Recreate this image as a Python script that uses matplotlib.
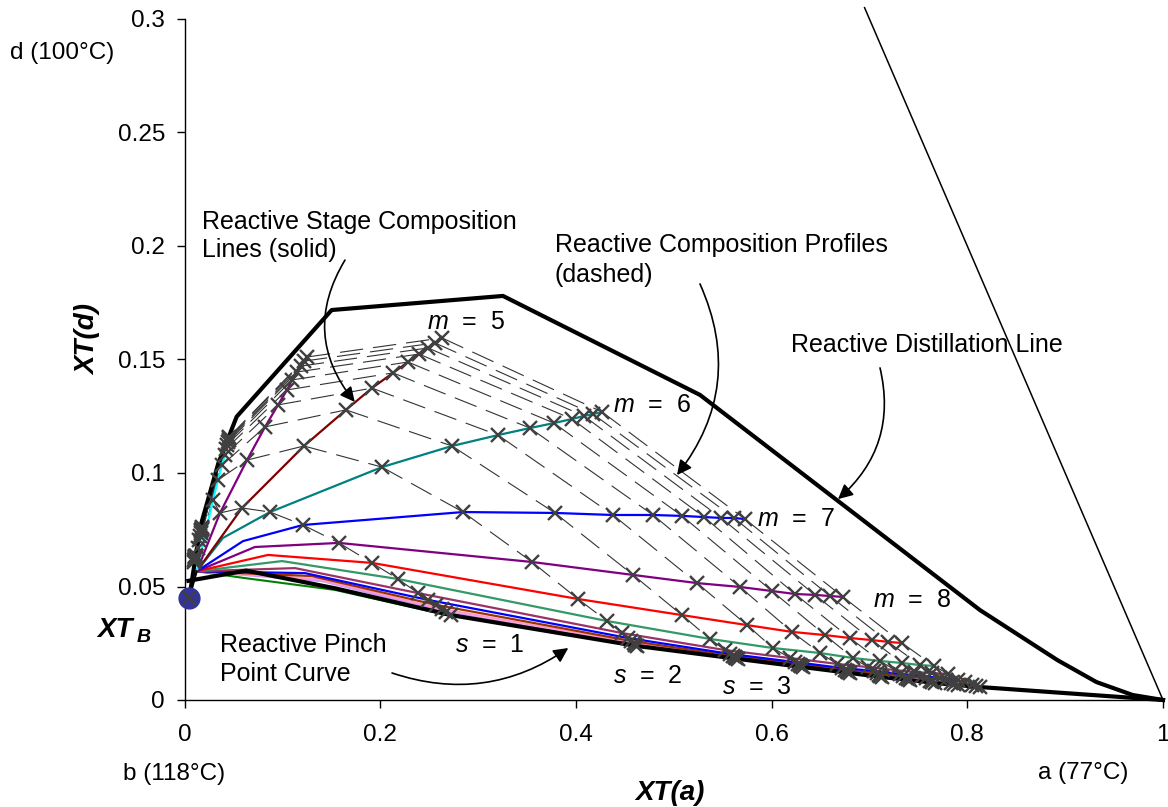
import numpy as np
import matplotlib.pyplot as plt
from matplotlib.collections import LineCollection

plt.rcParams['font.family'] = ['Liberation Sans', 'DejaVu Sans']
plt.rcParams['mathtext.fontset'] = 'custom'
plt.rcParams['mathtext.rm'] = 'Liberation Sans'
plt.rcParams['mathtext.it'] = 'Liberation Sans:italic'

# --- bottoms composition XT_B and the point where the stage lines fan out ---
xtb_x, xtb_y = 0.0049, 0.0449
fan_x, fan_y = 0.0125, 0.0567

# --- reactive distillation line (thick) ---
rdl_x = [0.0049, 0.0158, 0.0346, 0.0533, 0.1504, 0.3255, 0.5268, 0.813, 0.892, 0.932, 0.969, 1.0]
rdl_y = [0.0449, 0.0758, 0.1043, 0.1248, 0.1718, 0.1780, 0.1344, 0.0396, 0.0176, 0.0079, 0.0022, 0.0]

# simplex edge a-d
edge_x = [1.0, 0.695]
edge_y = [0.0, 0.305]

# start of the reactive pinch point curve (rest runs through the pinch points)
pc_head_x = [0.004, 0.063, 0.154]
pc_head_y = [0.0525, 0.057, 0.0492]

# --- stage compositions, one value per profile s = 1..10 ---
m1_x = [0.0097, 0.0102, 0.0107, 0.0107, 0.0112, 0.0112, 0.0112, 0.0118, 0.0118, 0.0118]
m1_y = [0.0608, 0.0617, 0.0621, 0.0626, 0.0630, 0.0630, 0.0634, 0.0634, 0.0634, 0.0634]
m2_x = [0.0138, 0.0148, 0.0158, 0.0164, 0.0169, 0.0169, 0.0174, 0.0174, 0.0179, 0.0179]
m2_y = [0.0670, 0.0705, 0.0722, 0.0736, 0.0744, 0.0749, 0.0753, 0.0755, 0.0758, 0.0760]
m3_x = [0.0291, 0.0342, 0.0383, 0.0414, 0.0424, 0.0434, 0.0445, 0.0450, 0.0455, 0.0455]
m3_y = [0.0881, 0.0969, 0.1035, 0.1079, 0.1106, 0.1123, 0.1137, 0.1145, 0.1154, 0.1159]
m4_x = [0.0363, 0.0639, 0.0823, 0.0956, 0.1048, 0.1099, 0.1150, 0.1190, 0.1221, 0.1252]
m4_y = [0.0824, 0.1057, 0.1203, 0.1300, 0.1366, 0.1410, 0.1445, 0.1471, 0.1493, 0.1511]
m5_x = [0.0588, 0.1221, 0.1650, 0.1916, 0.2131, 0.2284, 0.2397, 0.2489, 0.2560, 0.2632]
m5_y = [0.0846, 0.1119, 0.1278, 0.1374, 0.1441, 0.1489, 0.1524, 0.1551, 0.1573, 0.1595]
m6_x = [0.0874, 0.2018, 0.2734, 0.3204, 0.3531, 0.3776, 0.3960, 0.4083, 0.4175, 0.4267]
m6_y = [0.0828, 0.1026, 0.1119, 0.1167, 0.1198, 0.1220, 0.1238, 0.1251, 0.1260, 0.1269]
m7_x = [0.1211, 0.2846, 0.3786, 0.4379, 0.4788, 0.5084, 0.5309, 0.5483, 0.5616, 0.5728]
m7_y = [0.0771, 0.0828, 0.0824, 0.0815, 0.0815, 0.0811, 0.0806, 0.0802, 0.0802, 0.0797]
m8_x = [0.1579, 0.3551, 0.4584, 0.5238, 0.5677, 0.6004, 0.6239, 0.6443, 0.6597, 0.6730]
m8_y = [0.0692, 0.0608, 0.0551, 0.0515, 0.0498, 0.0480, 0.0467, 0.0463, 0.0458, 0.0454]
m9_x = [0.1916, 0.4021, 0.5084, 0.5749, 0.6209, 0.6546, 0.6801, 0.7026, 0.7190, 0.7333]
m9_y = [0.0604, 0.0445, 0.0374, 0.0330, 0.0300, 0.0286, 0.0273, 0.0264, 0.0256, 0.0251]
m10_x = [0.2182, 0.4318, 0.5370, 0.6014, 0.6495, 0.6832, 0.7108, 0.7333, 0.7517, 0.7660]
m10_y = [0.0533, 0.0348, 0.0269, 0.0229, 0.0207, 0.0185, 0.0172, 0.0163, 0.0154, 0.0150]
m11_x = [0.2386, 0.4471, 0.5524, 0.6188, 0.6668, 0.6985, 0.7261, 0.7466, 0.7639, 0.7803]
m11_y = [0.0471, 0.0295, 0.0220, 0.0185, 0.0159, 0.0145, 0.0132, 0.0123, 0.0119, 0.0115]
m12_x = [0.2488, 0.4532, 0.5575, 0.6239, 0.6720, 0.7047, 0.7312, 0.7537, 0.7721, 0.7905]
m12_y = [0.0441, 0.0273, 0.0203, 0.0167, 0.0141, 0.0128, 0.0115, 0.0106, 0.0097, 0.0088]
m13_x = [0.2570, 0.4563, 0.5606, 0.6270, 0.6750, 0.7078, 0.7343, 0.7578, 0.7782, 0.7976]
m13_y = [0.0419, 0.0260, 0.0194, 0.0159, 0.0132, 0.0119, 0.0106, 0.0097, 0.0088, 0.0079]
m14_x = [0.2632, 0.4594, 0.5626, 0.6290, 0.6770, 0.7098, 0.7374, 0.7619, 0.7833, 0.8048]
m14_y = [0.0401, 0.0251, 0.0189, 0.0154, 0.0128, 0.0110, 0.0097, 0.0084, 0.0075, 0.0066]
m15_x = [0.2673, 0.4604, 0.5636, 0.6300, 0.6780, 0.7108, 0.7394, 0.7639, 0.7864, 0.8089]
m15_y = [0.0388, 0.0242, 0.0185, 0.0150, 0.0123, 0.0106, 0.0093, 0.0079, 0.0070, 0.0062]
pinch_x = [0.2724, 0.4624, 0.5657, 0.6321, 0.6801, 0.7128, 0.7414, 0.7670, 0.7905, 0.8130]
pinch_y = [0.0374, 0.0238, 0.0181, 0.0145, 0.0119, 0.0101, 0.0088, 0.0075, 0.0066, 0.0057]

# knee of each drawn stage line between the fan point and s = 1 (m3..m15)
knee_x = [np.nan, np.nan, np.nan, 0.0393, 0.0598, 0.0720, 0.0853, 0.0996, 0.1129, 0.1231, 0.1303, 0.1364, 0.1405]
knee_y = [np.nan, np.nan, np.nan, 0.0714, 0.0700, 0.0674, 0.0639, 0.0612, 0.0581, 0.0559, 0.0546, 0.0533, 0.0524]
stage_colors = ['#00FFFF', '#800080', '#800000', '#008080', '#0000FF', '#800080', '#FF0000',
                '#339966', '#993366', '#0000FF', '#993300', '#FF99CC', '#CC99FF']

# green line hugging the pinch curve
low_x = [0.0125, 0.0618, 0.1538, 0.2724]
low_y = [0.0567, 0.0537, 0.0485, 0.0370]

all_x = [m1_x, m2_x, m3_x, m4_x, m5_x, m6_x, m7_x, m8_x, m9_x, m10_x, m11_x, m12_x, m13_x, m14_x, m15_x, pinch_x]
all_y = [m1_y, m2_y, m3_y, m4_y, m5_y, m6_y, m7_y, m8_y, m9_y, m10_y, m11_y, m12_y, m13_y, m14_y, m15_y, pinch_y]

fig = plt.figure(figsize=(11.68, 8.07), dpi=100)
ax = fig.add_axes([184.5 / 1168, 107 / 807, 978.5 / 1168, 681 / 807])

# --- composition profiles (dashed, pattern restarts at every stage like Excel) ---
segs = []
for j in range(10):
    px = [xtb_x] + [sx[j] for sx in all_x]
    py = [xtb_y] + [sy[j] for sy in all_y]
    for k in range(len(px) - 1):
        segs.append([(px[k], py[k]), (px[k + 1], py[k + 1])])
lc = LineCollection(segs, colors='#333333', linewidths=0.8, linestyles=[(0, (21, 9))], zorder=2)
ax.add_collection(lc)

# --- stage composition lines (solid) ---
ax.plot(low_x, low_y, color='#008000', lw=1.5, zorder=3)
for i in range(len(stage_colors) - 1, -1, -1):
    sx, sy = all_x[i + 2], all_y[i + 2]
    xs = [fan_x] + ([] if np.isnan(knee_x[i]) else [knee_x[i]]) + list(sx)
    ys = [fan_y] + ([] if np.isnan(knee_y[i]) else [knee_y[i]]) + list(sy)
    ax.plot(xs, ys, color=stage_colors[i], lw=1.6, zorder=3)

# --- boundary lines ---
ax.plot(edge_x, edge_y, color='black', lw=1.1, clip_on=False, zorder=4)
ax.plot(rdl_x, rdl_y, color='black', lw=3.0, clip_on=False, zorder=4)
ax.plot(pc_head_x + pinch_x + [1.0], pc_head_y + pinch_y + [0.0],
        color='black', lw=3.0, clip_on=False, zorder=4)
ax.plot([xtb_x, fan_x], [xtb_y, fan_y], color='black', lw=1.5, zorder=4)

# --- stage markers ---
ax.plot(np.concatenate(all_x), np.concatenate(all_y), 'x', color='#404040',
        ms=9.5, mew=1.7, ls='none', clip_on=False, zorder=5)
ax.plot([xtb_x], [xtb_y], 'o', ms=15, color='#333399', clip_on=False, zorder=6)
ax.plot([xtb_x], [xtb_y], 'x', ms=9.5, mew=1.7, color='#404040', clip_on=False, zorder=7)

# --- axes ---
ax.set_xlim(0, 1)
ax.set_ylim(0, 0.3)
ax.set_xticks([0, 0.2, 0.4, 0.6, 0.8, 1.0])
ax.set_xticklabels(['0', '0.2', '0.4', '0.6', '0.8', '1'])
ax.set_yticks([0, 0.05, 0.1, 0.15, 0.2, 0.25, 0.3])
ax.set_yticklabels(['0', '0.05', '0.1', '0.15', '0.2', '0.25', '0.3'])
for s in ['top', 'right']:
    ax.spines[s].set_visible(False)
for s in ['left', 'bottom']:
    ax.spines[s].set_linewidth(1.0)
ax.tick_params(direction='out', length=6, width=1, labelsize=17.5)
ax.tick_params(axis='x', pad=11)
ax.tick_params(axis='y', pad=8)

fs = 18
# corner labels and axis titles (figure pixels)
W, H = 1168, 807
fig.text(10 / W, 1 - 53 / H, 'd (100°C)', fontsize=17.5, ha='left', va='center')
fig.text(123 / W, 1 - 774 / H, 'b (118°C)', fontsize=17.5, ha='left', va='center')
fig.text(1038 / W, 1 - 773 / H, 'a (77°C)', fontsize=17.5, ha='left', va='center')
fig.text(670 / W, 1 - 793 / H, 'XT(a)', fontsize=20, fontweight='bold', fontstyle='italic',
         ha='center', va='center')
fig.text(88 / W, 1 - 340 / H, 'XT(d)', fontsize=20, fontweight='bold', fontstyle='italic',
         ha='center', va='center', rotation=90)
fig.text(115 / W, 1 - 630 / H, 'XT', fontsize=20, fontweight='bold', fontstyle='italic',
         ha='center', va='center')
fig.text(144 / W, 1 - 638 / H, 'B', fontsize=14, fontweight='bold', fontstyle='italic',
         ha='center', va='center')

# annotations inside the plot (data coordinates)
ax.text(0.0179, 0.2106, 'Reactive Stage Composition', fontsize=fs, va='center')
ax.text(0.0179, 0.1982, 'Lines (solid)', fontsize=fs, va='center')
ax.text(0.3786, 0.2004, 'Reactive Composition Profiles', fontsize=fs, va='center')
ax.text(0.3786, 0.1872, '(dashed)', fontsize=fs, va='center')
ax.text(0.6199, 0.1564, 'Reactive Distillation Line', fontsize=fs, va='center')
ax.text(0.0363, 0.0242, 'Reactive Pinch', fontsize=fs, va='center')
ax.text(0.0363, 0.0115, 'Point Curve', fontsize=fs, va='center')

m_labels = [(0.2478, 0.1665, '5'), (0.4378, 0.1300, '6'), (0.585, 0.0797, '7'), (0.7036, 0.0441, '8')]
for x, y, t in m_labels:
    ax.text(x, y, r'$m$  =  ' + t, fontsize=fs, va='center')
s_labels = [(0.2764, 0.0242, '1'), (0.4378, 0.0106, '2'), (0.5493, 0.0057, '3')]
for x, y, t in s_labels:
    ax.text(x, y, r'$s$  =  ' + t, fontsize=fs, va='center')

# curved pointer arrows (start -> tip, bend)
arrows = [((0.164, 0.1938), (0.174, 0.1313), 0.35),
          ((0.5268, 0.1833), (0.5033, 0.0991), -0.3),
          ((0.7108, 0.1463), (0.6679, 0.0885), -0.3),
          ((0.2121, 0.0119), (0.3922, 0.0229), 0.25)]
for start, tip, rad in arrows:
    ax.annotate('', xy=tip, xytext=start,
                arrowprops=dict(arrowstyle='-|>', color='black', lw=1.2, mutation_scale=22,
                                shrinkA=0, shrinkB=0,
                                connectionstyle='arc3,rad=%s' % rad), zorder=6)

fig.savefig('out.png', dpi=100)
